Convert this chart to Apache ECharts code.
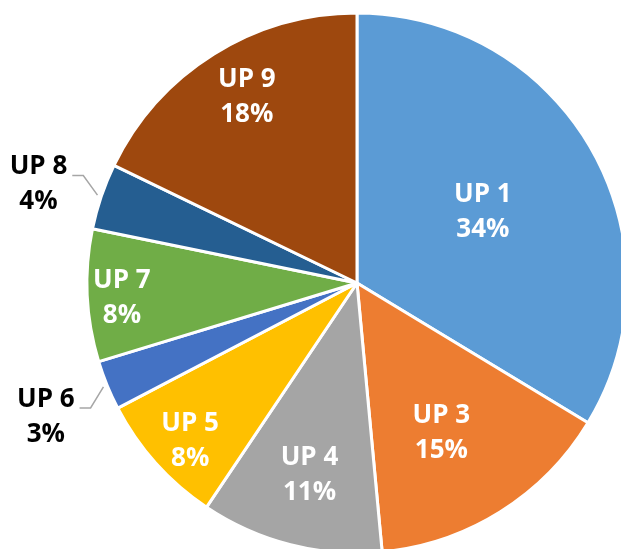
<!DOCTYPE html>
<html>
<head>
<meta charset="utf-8">
<script src="https://cdn.jsdelivr.net/npm/echarts@6/dist/echarts.min.js"></script>
<style>
  html, body { margin: 0; padding: 0; background: #fff; }
  #chart { width: 621px; height: 549px; }
</style>
</head>
<body>
<div id="chart"></div>
<script>
  // data, clockwise from 12 o'clock
  var names = ['UP 1', 'UP 3', 'UP 4', 'UP 5', 'UP 6', 'UP 7', 'UP 8', 'UP 9'];
  var shares = [34, 15, 11, 8, 3, 8, 4, 18];

  // look
  var colors = ['#5B9BD5', '#ED7D31', '#A5A5A5', '#FFC000', '#4472C4', '#70AD47', '#255E91', '#9E480E'];
  var outside = [false, false, false, false, true, false, true, false];
  var labelDist = [0.539, 0.631, 0.724, 0.846, 1.252, 0.872, 1.237, 0.807]; // fraction of radius
  var labelTurn = [-0.7, 2.4, -0.2, -1.2, -0.7, -0.5, -1.2, 1.7];            // degrees off mid angle
  var CX = 357, CY = 283, R = 270;

  var total = shares.reduce(function (a, b) { return a + b; }, 0);
  var midDeg = [], cum = 0;
  shares.forEach(function (v) {
    midDeg.push((cum + v / 2) / total * 360);
    cum += v;
  });
  function dir(deg) {
    var a = deg * Math.PI / 180;
    return [Math.sin(a), -Math.cos(a)];
  }

  var chart = echarts.init(document.getElementById('chart'));
  chart.setOption({
    animation: false,
    series: [{
      type: 'pie',
      center: [CX, CY],
      radius: R,
      startAngle: 90,
      clockwise: true,
      avoidLabelOverlap: false,
      itemStyle: { borderColor: '#fff', borderWidth: 3 },
      label: {
        formatter: '{b}\n{c}%',
        fontFamily: 'Open Sans',
        fontWeight: 'bold',
        fontSize: 26,
        lineHeight: 35,
        textBorderWidth: 0
      },
      labelLine: { show: true, lineStyle: { color: '#A6A6A6', width: 1.5 } },
      labelLayout: function (p) {
        var i = p.dataIndex;
        var u = dir(midDeg[i] + labelTurn[i]);
        var x = CX + u[0] * labelDist[i] * R;
        var y = CY + u[1] * labelDist[i] * R + 2;
        var res = { x: x, y: y, align: 'center', verticalAlign: 'middle' };
        if (outside[i]) {
          var m = dir(midDeg[i]);
          var right = x + p.labelRect.width / 2;
          var ay = y - 9;
          res.labelLinePoints = [
            [CX + m[0] * (R + 4), CY + m[1] * (R + 4)],
            [right + 16, ay],
            [right + 5, ay]
          ];
        }
        return res;
      },
      emphasis: { disabled: true },
      data: names.map(function (n, i) {
        return {
          name: n,
          value: shares[i],
          itemStyle: { color: colors[i] },
          label: {
            position: outside[i] ? 'outside' : 'inside',
            color: outside[i] ? '#000' : '#fff'
          }
        };
      })
    }]
  });
</script>
</body>
</html>
